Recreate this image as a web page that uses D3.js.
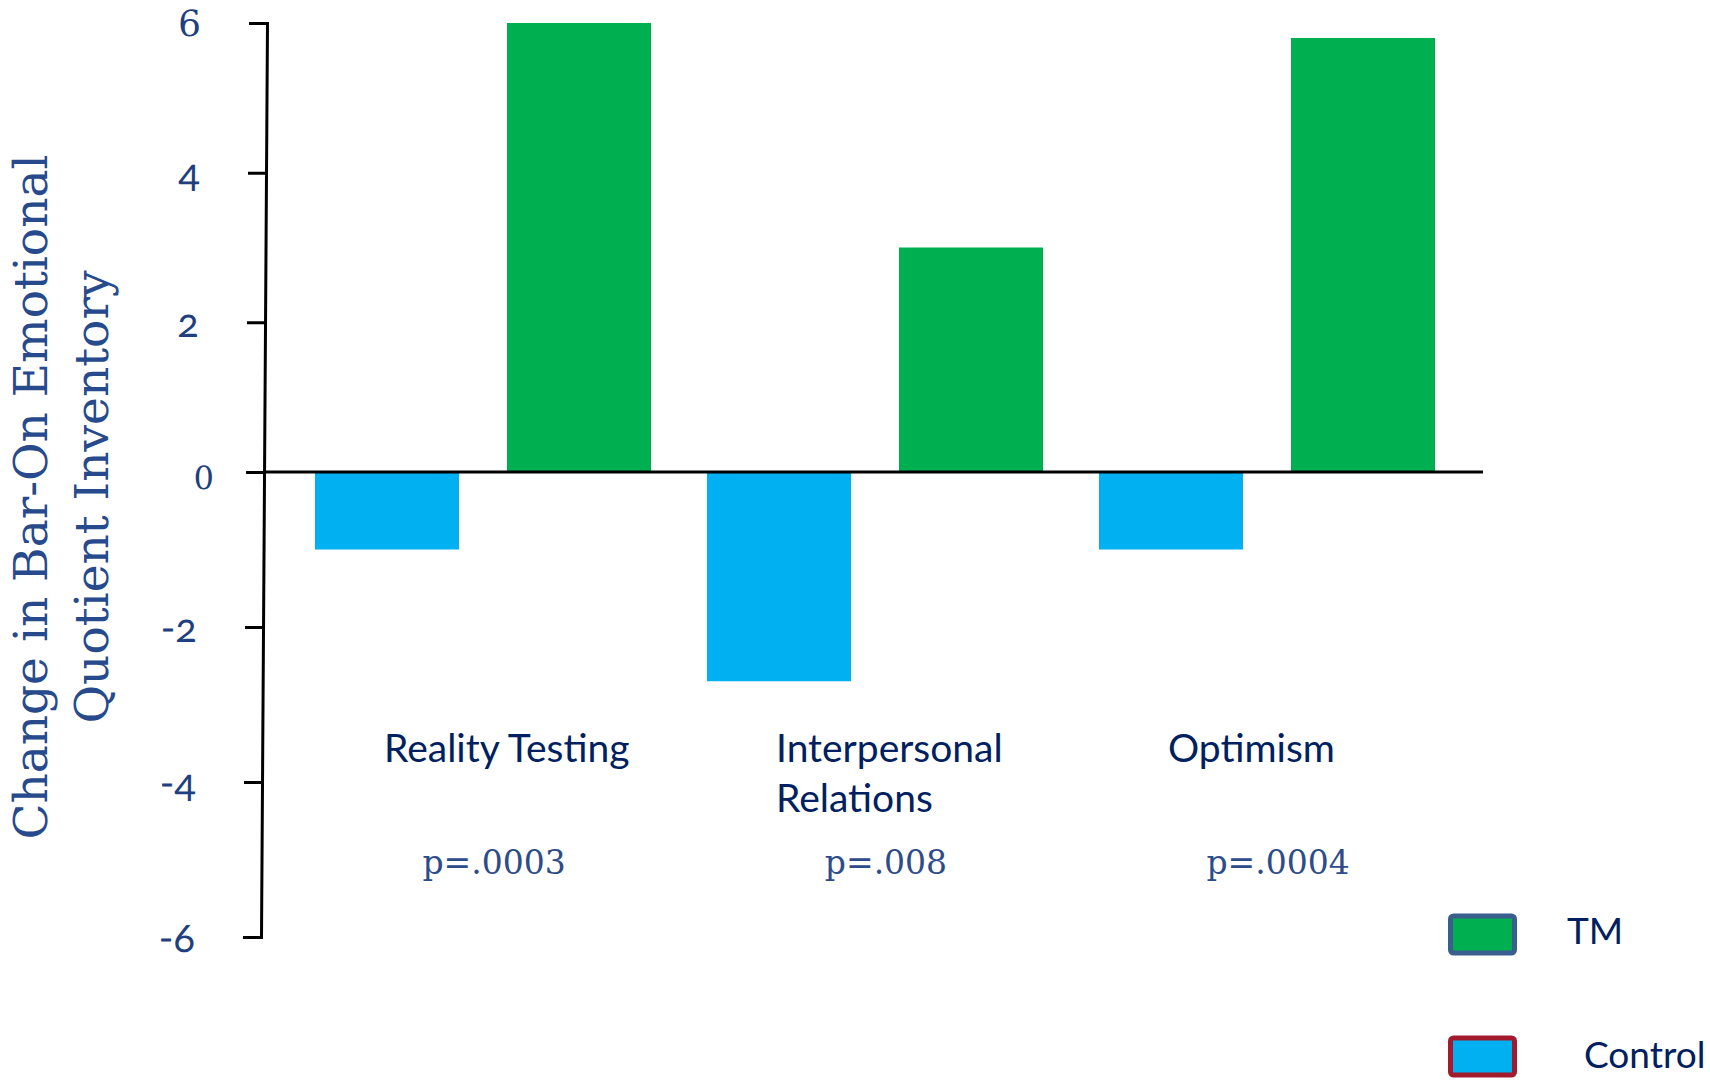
<!DOCTYPE html>
<html>
<head>
<meta charset="utf-8">
<script src="https://cdn.jsdelivr.net/npm/d3@7"></script>
<style>
  html, body { margin: 0; padding: 0; background: #ffffff; }
  svg { display: block; }
</style>
</head>
<body>
<svg id="chart" width="1710" height="1081"></svg>
<script>
// Change scores on Bar-On EQ-i subscales, TM vs. control group
const categories = ["Reality Testing", "Interpersonal Relations", "Optimism"];
const categoryLabelLines = [["Reality Testing"], ["Interpersonal", "Relations"], ["Optimism"]];
const series = ["Control", "TM"];
const controlValues = [-1.0, -2.7, -1.0];
const tmValues = [6.0, 3.0, 5.8];
const pLabels = ["p=.0003", "p=.008", "p=.0004"];
const yTicks = [-6, -4, -2, 0, 2, 4, 6];
const legendOrder = ["TM", "Control"];

const fills = { TM: "#00B050", Control: "#00B0F0" };
const legendStrokes = { TM: "#3A5F8E", Control: "#A31A2F" };

const svg = d3.select("#chart");
const width = 1710, height = 1081;
svg.append("rect").attr("width", width).attr("height", height).attr("fill", "#ffffff");

const axisX = 264;
const y = d3.scaleLinear().domain([-6, 0, 6]).range([937, 472, 23]);
const x0 = d3.scaleBand().domain(categories).range([287, 1463]);
const x1 = d3.scaleBand().domain(series).range([0, x0.bandwidth()])
  .paddingInner(0.25).paddingOuter(0.1458);

const rows = categories.map((c, i) => ({
  category: c,
  values: [
    { key: "Control", value: controlValues[i] },
    { key: "TM", value: tmValues[i] }
  ]
}));

// bars
const groups = svg.append("g").selectAll("g").data(rows).join("g")
  .attr("transform", d => `translate(${x0(d.category)},0)`);
groups.selectAll("rect").data(d => d.values).join("rect")
  .attr("x", d => x1(d.key))
  .attr("width", x1.bandwidth())
  .attr("y", d => y(Math.max(0, d.value)))
  .attr("height", d => Math.abs(y(d.value) - y(0)))
  .attr("fill", d => fills[d.key]);

// baseline at zero
svg.append("line")
  .attr("x1", axisX - 1).attr("x2", x0.range()[1] + 20)
  .attr("y1", y(0)).attr("y2", y(0))
  .attr("stroke", "#000").attr("stroke-width", 3);

// vertical axis (drawn with a very slight lean)
const yMid = (y.range()[0] + y.range()[2]) / 2;
const lean = Math.atan(-3 / (yMid - y(6))) * 180 / Math.PI;
const yAxisG = svg.append("g")
  .attr("transform", `translate(${axisX},${yMid}) skewX(${lean}) translate(0,${-yMid})`)
  .call(d3.axisLeft(y).tickValues(yTicks).tickSize(18).tickPadding(48).tickFormat(d => String(d)));
yAxisG.select(".domain").attr("stroke", "#000").attr("stroke-width", 3);
yAxisG.selectAll(".tick line").attr("stroke", "#000").attr("stroke-width", 3);
yAxisG.selectAll(".tick text")
  .attr("fill", "#1F3F7F")
  .attr("font-family", d => (d === 0 || d === 6) ? "'DejaVu Serif', serif" : "Lato, 'Open Sans', sans-serif")
  .attr("font-size", d => (d === 0 || d === 6) ? 36 : 40)
  .style("font-variant-numeric", "oldstyle-nums")
  .attr("dy", "0.35em");
yAxisG.selectAll(".tick").filter(d => d === 0).select("text")
  .attr("x", -50).attr("dy", "0.5em").attr("font-size", 32);

function fitText(sel, target) {
  const w = sel.node().getComputedTextLength();
  const fs = parseFloat(sel.attr("font-size"));
  sel.attr("font-size", fs * target / w);
}

// y axis title, two lines
const titleLines = ["Change in Bar-On Emotional", "Quotient Inventory"];
const titleWidths = [685, 453];
const titleBase = [47, 108];
titleLines.forEach((t, i) => {
  const tx = svg.append("text")
    .attr("transform", `translate(${titleBase[i]},497) rotate(-90)`)
    .attr("text-anchor", "middle")
    .attr("font-family", "'DejaVu Serif', serif")
    .attr("font-size", 44)
    .attr("fill", "#264A8C")
    .text(t);
  fitText(tx, titleWidths[i]);
});

// category labels
const catG = svg.append("g");
rows.forEach((d, i) => {
  const cx = x0(d.category) + x0.bandwidth() / 2;
  const t = catG.append("text")
    .attr("x", cx - 99).attr("y", 762)
    .attr("font-family", "Lato, 'Open Sans', sans-serif")
    .attr("font-size", 39)
    .attr("fill", "#002060");
  categoryLabelLines[i].forEach((line, j) => {
    t.append("tspan").attr("x", cx - 99).attr("dy", j === 0 ? 0 : 50).text(line);
  });
});

// significance labels
rows.forEach((d, i) => {
  const cx = x0(d.category) + x0.bandwidth() / 2;
  svg.append("text")
    .attr("x", cx + 11).attr("y", 874)
    .attr("text-anchor", "middle")
    .attr("font-family", "'DejaVu Serif', serif")
    .attr("font-size", 33)
    .attr("fill", "#2E4C8A")
    .style("font-variant-numeric", "oldstyle-nums")
    .text(pLabels[i]);
});

// legend
const legend = svg.append("g");
const legendY = d3.scalePoint().domain(legendOrder).range([916, 1038]);
legendOrder.forEach(k => {
  legend.append("rect")
    .attr("x", 1450.5).attr("y", legendY(k))
    .attr("width", 64).attr("height", 37)
    .attr("rx", 3)
    .attr("fill", fills[k])
    .attr("stroke", legendStrokes[k]).attr("stroke-width", 5);
});
legend.append("text")
  .attr("x", 1567).attr("y", 944)
  .attr("font-family", "Lato, 'Open Sans', sans-serif")
  .attr("font-size", 37).attr("fill", "#002060")
  .text("TM");
legend.append("text")
  .attr("x", 1584).attr("y", 1068)
  .attr("font-family", "Lato, 'Open Sans', sans-serif")
  .attr("font-size", 37).attr("fill", "#002060")
  .text("Control");
</script>
</body>
</html>
